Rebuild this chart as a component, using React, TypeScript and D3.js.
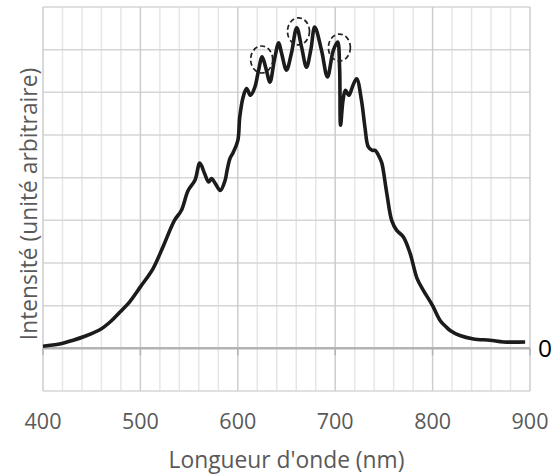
import React from "react";
import * as d3 from "d3";

// spectre (nm, intensité arbitraire)
const wavelengths = [
  400, 417, 431, 445, 460, 470, 479, 489, 500, 513, 523, 535, 542, 549, 556, 561,
  566, 570, 573, 577, 582, 587, 589, 592, 595, 600, 602, 605.5, 609, 613, 617.5,
  621, 625, 629, 633, 637.5, 642, 645, 650, 655, 660.5, 665.5, 670.5, 675, 679,
  686, 692, 698, 702.5, 704.5, 705.5, 708, 710.5, 714, 718, 722, 727, 730.5, 734,
  738, 741, 746, 748, 753, 758, 763, 770, 777, 784, 790.5, 800, 807.5, 814, 818,
  828, 842, 859, 873, 895,
];
const intensities = [
  0.05, 0.1, 0.19, 0.3, 0.46, 0.64, 0.85, 1.09, 1.44, 1.87, 2.37, 3.0, 3.23, 3.7,
  3.94, 4.34, 4.09, 3.9, 3.98, 3.86, 3.7, 3.94, 4.17, 4.45, 4.58, 4.87, 5.42, 5.89,
  6.09, 5.93, 6.12, 6.48, 6.83, 6.55, 6.24, 6.75, 7.16, 6.91, 6.52, 6.91, 7.51,
  7.06, 6.59, 7.0, 7.53, 6.98, 6.36, 6.98, 7.18, 6.59, 5.23, 5.81, 6.05, 5.93,
  6.15, 6.32, 5.81, 5.19, 4.72, 4.64, 4.64, 4.45, 4.33, 3.63, 3.0, 2.77, 2.61,
  2.22, 1.64, 1.36, 1.0, 0.66, 0.5, 0.42, 0.3, 0.22, 0.19, 0.15, 0.15,
];

// pics entourés en pointillés
const circledNm = [624.5, 662.3, 704.3];
const circledVal = [6.77, 7.43, 7.05];

const xTickLabels = [400, 500, 600, 700, 800, 900];
const xMinorTicks = d3.range(400, 901, 20);
const yGridValues = d3.range(-1, 9, 1);

const W = 556;
const H = 474;
const FONT = "'Open Sans', sans-serif";

export default function App() {
  const x = d3.scaleLinear().domain([400, 900]).range([43, 530]);
  const y = d3.scaleLinear().domain([-1, 8]).range([391, 7]);

  const data = wavelengths.map((w, i) => [w, intensities[i]] as [number, number]);
  const line = d3
    .line<[number, number]>()
    .x((d) => x(d[0]))
    .y((d) => y(d[1]))
    .curve(d3.curveCatmullRom.alpha(0.5));

  return (
    <svg
      width={W}
      height={H}
      style={{ position: "absolute", left: 0, top: 0, background: "#fff" }}
    >
      {/* minor vertical grid */}
      {xMinorTicks
        .filter((v) => v % 100 !== 0)
        .map((v) => (
          <line key={"m" + v} x1={x(v)} x2={x(v)} y1={y(8)} y2={y(-1)} stroke="#e6e6e6" strokeWidth={1.5} />
        ))}
      {/* horizontal grid */}
      {yGridValues
        .filter((v) => v !== 0)
        .map((v) => (
          <line key={"h" + v} x1={x(400)} x2={x(900)} y1={y(v)} y2={y(v)} stroke="#d6d6d6" strokeWidth={1.5} />
        ))}
      {/* major vertical grid */}
      {xTickLabels.map((v) => (
        <line key={"M" + v} x1={x(v)} x2={x(v)} y1={y(8)} y2={y(-1)} stroke="#cdcdcd" strokeWidth={1.5} />
      ))}
      {/* zero axis */}
      <line x1={x(400)} x2={x(900)} y1={y(0)} y2={y(0)} stroke="#b3b3b3" strokeWidth={2.5} />
      {xTickLabels.map((v) => (
        <line key={"t" + v} x1={x(v)} x2={x(v)} y1={y(0)} y2={y(0) + 7} stroke="#b3b3b3" strokeWidth={1.5} />
      ))}

      <path d={line(data) ?? ""} fill="none" stroke="#1b1b1b" strokeWidth={3.6} strokeLinejoin="round" />

      {circledNm.map((v, i) => (
        <ellipse
          key={"c" + v}
          cx={x(v)}
          cy={y(circledVal[i])}
          rx={11}
          ry={13.5}
          fill="none"
          stroke="#222"
          strokeWidth={1.7}
          strokeDasharray="5 3"
        />
      ))}

      {xTickLabels.map((v) => (
        <text
          key={"l" + v}
          x={x(v)}
          y={429}
          textAnchor="middle"
          fontFamily={FONT}
          fontSize={21.5}
          fill="#595959"
        >
          {v}
        </text>
      ))}
      <text x={538} y={357} fontFamily={FONT} fontSize={24.5} fill="#000">
        0
      </text>
      <text
        x={(x(400) + x(900)) / 2}
        y={468}
        textAnchor="middle"
        fontFamily={FONT}
        fontSize={22.8}
        fill="#595959"
      >
        Longueur d'onde (nm)
      </text>
      <text
        transform={`translate(37,204) rotate(-90)`}
        textAnchor="middle"
        fontFamily={FONT}
        fontSize={22.8}
        fill="#595959"
      >
        Intensité (unité arbitraire)
      </text>
    </svg>
  );
}
